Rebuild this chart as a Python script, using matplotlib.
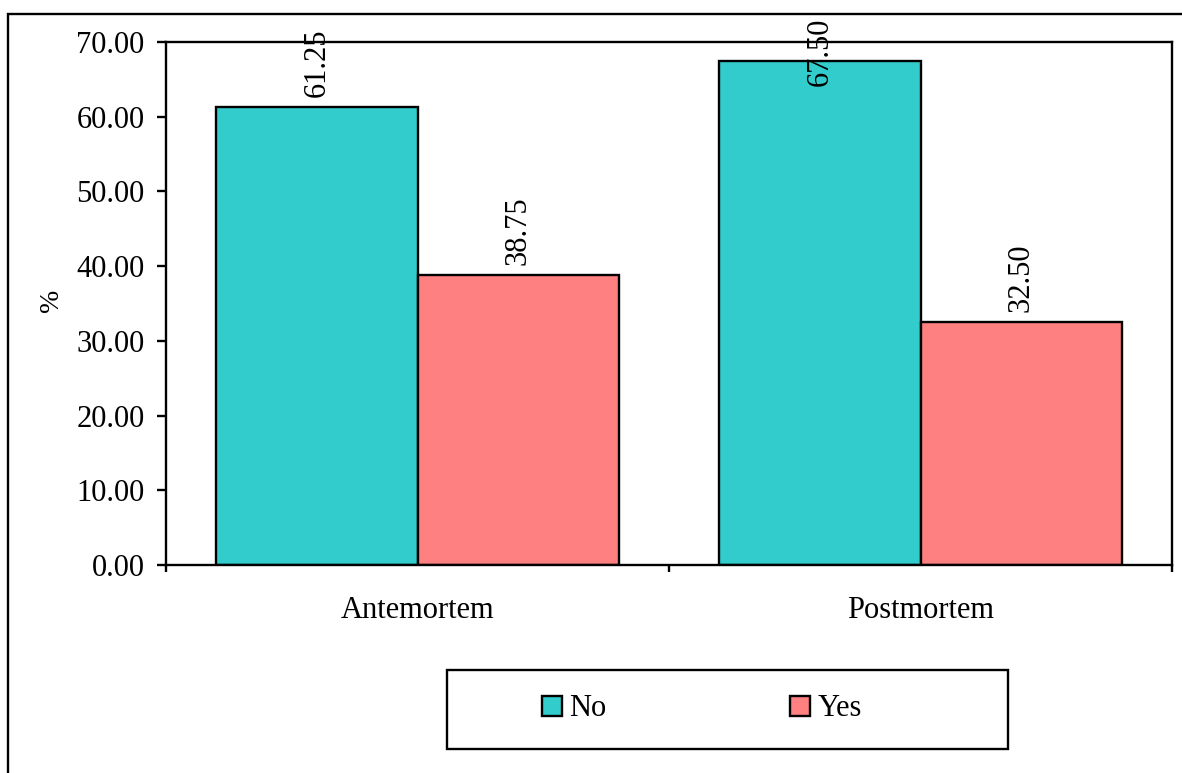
import matplotlib
matplotlib.use("Agg")
import matplotlib.pyplot as plt
from matplotlib.patches import Rectangle, Patch
import numpy as np

plt.rcParams['font.family'] = ['Liberation Serif', 'DejaVu Serif']

categories = ["Antemortem", "Postmortem"]
series_names = ["No", "Yes"]
no_values = [61.25, 67.50]
yes_values = [38.75, 32.50]
y_ticks = [0, 10, 20, 30, 40, 50, 60, 70]

colors = {"No": "#33CCCC", "Yes": "#FF8080"}

W, H = 1182, 773
DPI = 100
fig = plt.figure(figsize=(W / DPI, H / DPI), dpi=DPI)
fig.patch.set_facecolor("white")

# plot area in pixel coordinates
left_px, right_px, top_px, bottom_px = 166, 1172, 42, 565
ax = fig.add_axes([left_px / W, 1 - bottom_px / H,
                   (right_px - left_px) / W, (bottom_px - top_px) / H])

FS = 22
LW = 1.7
x = np.arange(len(categories))
width = 0.4
bars_no = ax.bar(x - width / 2, no_values, width, color=colors["No"],
                 edgecolor="black", linewidth=LW, label="No")
bars_yes = ax.bar(x + width / 2, yes_values, width, color=colors["Yes"],
                  edgecolor="black", linewidth=LW, label="Yes")

ax.set_xlim(-0.5, 1.5)
ax.set_ylim(0, 70)
ax.set_yticks(y_ticks)
ax.set_yticklabels([f"{v:.2f}" for v in y_ticks], fontsize=FS)
ax.tick_params(axis="y", direction="out", length=6.5, width=LW, pad=9)

ax.set_xticks([-0.5, 0.5, 1.5])
ax.set_xticklabels([])
ax.tick_params(axis="x", which="major", direction="out", length=5, width=LW)
ax.set_xticks(x, minor=True)
ax.set_xticklabels(categories, minor=True, fontsize=FS)
ax.tick_params(axis="x", which="minor", length=0, pad=22)

for s in ax.spines.values():
    s.set_linewidth(LW)
    s.set_color("black")

ax.set_ylabel("%", fontsize=20, va="center", ha="center")
ax.yaxis.set_label_coords((52 - left_px) / (right_px - left_px),
                          (bottom_px - 300) / (bottom_px - top_px))

# value labels above each bar
labels = []
for bars, vals in ((bars_no, no_values), (bars_yes, yes_values)):
    for b, v in zip(bars, vals):
        t = ax.annotate(f"{v:.2f}", (b.get_x() + b.get_width() / 2, v),
                        xytext=(0, 7.2), textcoords="offset points",
                        rotation=90, ha="center", va="bottom", fontsize=FS,
                        annotation_clip=False)
        labels.append(t)

# keep labels inside the chart frame
frame_top_px = 14
fig.canvas.draw()
renderer = fig.canvas.get_renderer()
limit = H - frame_top_px - 4
for t in labels:
    bb = t.get_window_extent(renderer)
    if bb.y1 > limit:
        shift = (bb.y1 - limit) * 72 / DPI
        ox, oy = t.xyann
        t.xyann = (ox, oy - shift)

# outer chart frame
fig.add_artist(Rectangle((8 / W, -0.1), 1.2, (H - frame_top_px) / H + 0.1,
                         transform=fig.transFigure, fill=False,
                         edgecolor="black", linewidth=LW))

# legend box
lg_l, lg_r, lg_t, lg_b = 447, 1008, 670, 749
fig.add_artist(Rectangle((lg_l / W, 1 - lg_b / H), (lg_r - lg_l) / W,
                         (lg_b - lg_t) / H, transform=fig.transFigure,
                         fill=False, edgecolor="black", linewidth=LW))
handles = [Patch(facecolor=colors[n], edgecolor="black", linewidth=LW)
           for n in series_names]
fig.legend(handles, series_names, ncol=2, loc="center left",
           bbox_to_anchor=(542 / W, 1 - 709 / H), frameon=False,
           fontsize=FS, handlelength=0.65, handleheight=0.65,
           handletextpad=0.25, columnspacing=6.0, borderpad=0,
           borderaxespad=0)

fig.savefig("out.png", dpi=DPI)
